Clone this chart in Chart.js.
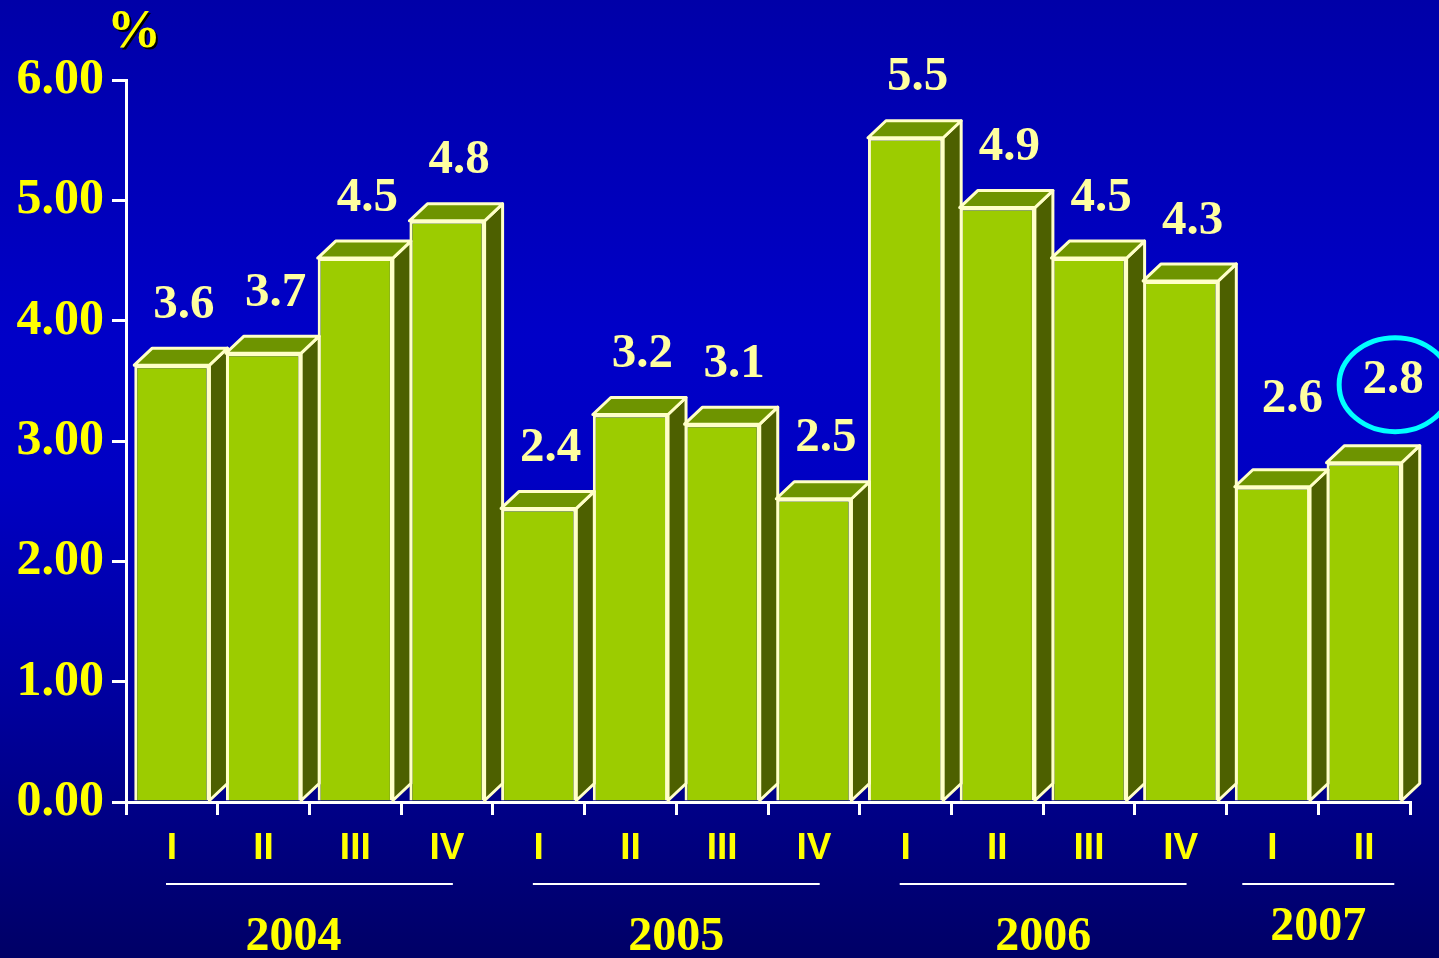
<!DOCTYPE html>
<html>
<head>
<meta charset="utf-8">
<script src="https://cdn.jsdelivr.net/npm/chart.js@4.4.1/dist/chart.umd.min.js"></script>
<style>
  html, body { margin: 0; padding: 0; overflow: hidden; }
  body {
    width: 1439px; height: 958px;
    background: linear-gradient(to bottom, #0000a8 0%, #0000c8 35%, #0000c4 50%, #0000a0 72%, #000066 100%);
  }
  canvas { display: block; }
</style>
</head>
<body>
<canvas id="growthChart" width="1439" height="958"></canvas>
<script>
// quarters, grouped by year
const quarters = ['I', 'II', 'III', 'IV', 'I', 'II', 'III', 'IV', 'I', 'II', 'III', 'IV', 'I', 'II'];
const years = ['2004', '2005', '2006', '2007'];
const quartersPerYear = [4, 4, 4, 2];
const growth = [3.63, 3.73, 4.52, 4.83, 2.44, 3.22, 3.14, 2.52, 5.52, 4.94, 4.52, 4.33, 2.62, 2.82];
const yTicks = [0, 1, 2, 3, 4, 5, 6];

const SERIF = '"Liberation Serif", "Times New Roman", serif';
const SANS = '"Liberation Sans Narrow", "Liberation Sans", Arial, sans-serif';
const DX = 18, DY = -17;

// the last two labels sit higher (the ellipse marks the latest quarter)
const labelNudge = { 12: [20, -87], 13: [29, -82] };
const yearNudge = { 0: -16 };

const bars3d = {
    id: 'bars3d',
    afterDatasetsDraw(chart) {
        const ctx = chart.ctx;
        const meta = chart.getDatasetMeta(0);
        ctx.save();
        ctx.lineJoin = 'round';
        ctx.lineWidth = 3;
        ctx.strokeStyle = '#ffffc8';
        meta.data.forEach(bar => {
            const p = bar.getProps(['x', 'y', 'width', 'base'], true);
            const l = p.x - p.width / 2, r = p.x + p.width / 2;
            // side
            ctx.beginPath();
            ctx.moveTo(r, p.y);
            ctx.lineTo(r + DX, p.y + DY);
            ctx.lineTo(r + DX, p.base + DY);
            ctx.lineTo(r, p.base);
            ctx.closePath();
            ctx.fillStyle = '#4d6000';
            ctx.fill();
            ctx.stroke();
            // top
            ctx.beginPath();
            ctx.moveTo(l, p.y);
            ctx.lineTo(l + DX, p.y + DY);
            ctx.lineTo(r + DX, p.y + DY);
            ctx.lineTo(r, p.y);
            ctx.closePath();
            ctx.fillStyle = '#6e9400';
            ctx.fill();
            ctx.stroke();
        });

        // value labels
        ctx.font = 'bold 49px ' + SERIF;
        ctx.fillStyle = '#ffffa0';
        ctx.textAlign = 'center';
        ctx.textBaseline = 'middle';
        meta.data.forEach((bar, i) => {
            const n = labelNudge[i] || [12, -60];
            ctx.fillText(growth[i].toFixed(1), bar.x + n[0], bar.y + n[1]);
            if (i === growth.length - 1) {
                ctx.beginPath();
                ctx.ellipse(bar.x + n[0] + 2, bar.y + n[1] + 4, 56, 47, 0, 0, Math.PI * 2);
                ctx.strokeStyle = '#00ffff';
                ctx.lineWidth = 5;
                ctx.stroke();
            }
        });

        // year groups under the quarters
        const xs = chart.scales.x;
        const step = xs.getPixelForValue(1) - xs.getPixelForValue(0);
        let start = 0;
        years.forEach((yr, k) => {
            const n = quartersPerYear[k];
            const x0 = xs.getPixelForValue(start) - step / 2;
            const x1 = xs.getPixelForValue(start + n - 1) + step / 2;
            const cx = (x0 + x1) / 2;
            const half = Math.max((x1 - x0) / 2 - 40, 76);
            ctx.beginPath();
            ctx.moveTo(cx - half, 884);
            ctx.lineTo(cx + half, 884);
            ctx.strokeStyle = '#ffffff';
            ctx.lineWidth = 2;
            ctx.stroke();
            ctx.font = 'bold 48px ' + SERIF;
            ctx.fillStyle = '#ffff00';
            ctx.fillText(yr, cx + (yearNudge[k] || 0), n < 4 ? 928 : 938);
            start += n;
        });

        // unit
        ctx.font = 'bold 54px ' + SERIF;
        ctx.fillStyle = '#000000';
        ctx.fillText('%', chart.chartArea.left + 10, chart.chartArea.top - 45);
        ctx.fillStyle = '#ffff00';
        ctx.fillText('%', chart.chartArea.left + 8, chart.chartArea.top - 47);
        ctx.restore();
    }
};

const ctx1 = document.getElementById('growthChart').getContext('2d');
new Chart(ctx1, {
    type: 'bar',
    data: {
        labels: quarters,
        datasets: [{
            data: growth,
            backgroundColor: '#9ccc00',
            borderColor: '#ffffc8',
            borderWidth: 3,
            barPercentage: 0.82,
            categoryPercentage: 1
        }]
    },
    options: {
        responsive: false,
        animation: false,
        devicePixelRatio: 1,
        layout: { padding: { top: 80, right: 29, left: 0, bottom: 0 } },
        plugins: {
            legend: { display: false },
            tooltip: { enabled: false }
        },
        scales: {
            x: {
                grid: { drawOnChartArea: false, drawTicks: true, tickLength: 13, color: '#ffffff', lineWidth: 3, offset: true },
                border: { display: true, color: '#ffffff', width: 3 },
                ticks: {
                    color: '#ffff00',
                    font: { family: SANS, size: 37, weight: 'bold' },
                    padding: 12,
                    autoSkip: false,
                    maxRotation: 0
                },
                afterFit: s => { s.height = 156; }
            },
            y: {
                min: 0,
                max: 6,
                afterBuildTicks: s => { s.ticks = yTicks.map(v => ({ value: v })); },
                grid: { drawOnChartArea: false, drawTicks: true, tickLength: 14, color: '#ffffff', lineWidth: 3 },
                border: { display: true, color: '#ffffff', width: 3 },
                ticks: {
                    color: '#ffff00',
                    font: { family: SERIF, size: 50, weight: 'bold' },
                    padding: 8,
                    callback: v => Number(v).toFixed(2)
                },
                afterFit: s => { s.width = 126; }
            }
        }
    },
    plugins: [bars3d]
});
</script>
</body>
</html>
